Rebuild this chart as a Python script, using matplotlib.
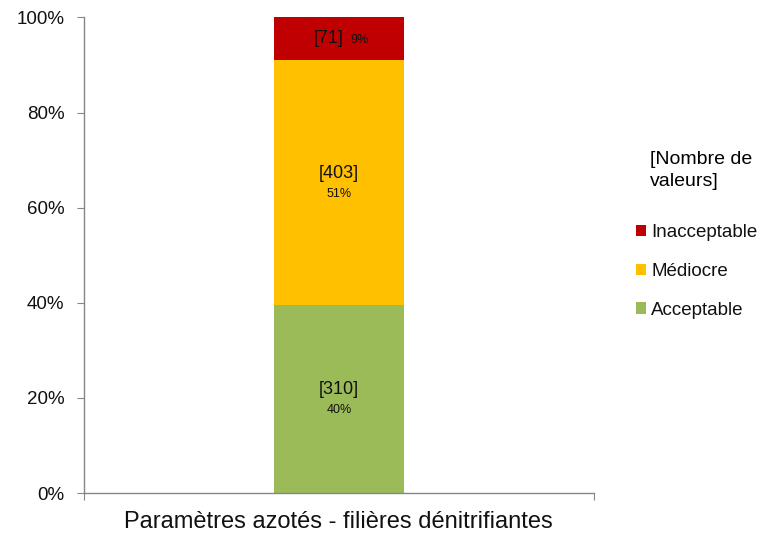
import matplotlib.pyplot as plt
import numpy as np
from matplotlib.patches import Patch

plt.rcParams['font.family'] = ['Liberation Sans', 'DejaVu Sans']

category = "Paramètres azotés - filières dénitrifiantes"
levels = ["Acceptable", "Médiocre", "Inacceptable"]
counts = [310, 403, 71]
colors = ["#9BBB59", "#FFC000", "#C00000"]

total = sum(counts)
shares = [c / total for c in counts]

fig = plt.figure(figsize=(7.73, 5.35), dpi=100)
ax = fig.add_axes([0.1087, 0.0785, 0.6593, 0.889])

bottom = 0.0
for name, n, share, col in zip(levels, counts, shares, colors):
    ax.bar(0, share, bottom=bottom, width=0.255, color=col, label=name)
    mid = bottom + share / 2
    pct = "{:.0f}%".format(share * 100)
    if share < 0.15:
        # thin segment: count and share on one line
        ax.text(0.01, mid, "[{}]".format(n), ha='right', va='center',
                fontsize=13, color='#111111')
        ax.text(0.022, mid - 0.002, pct, ha='left', va='center',
                fontsize=9, color='#111111')
    else:
        ax.text(0, mid + 0.019, "[{}]".format(n), ha='center', va='center',
                fontsize=13, color='#111111')
        ax.text(0, mid - 0.024, pct, ha='center', va='center',
                fontsize=9, color='#111111')
    bottom += share

ax.set_xlim(-0.5, 0.5)
ax.set_ylim(0, 1)
yt = np.arange(0, 1.01, 0.2)
ax.set_yticks(yt)
ax.set_yticklabels(["{:.0f}%".format(v * 100) for v in yt],
                   fontsize=13.5, color='#111111')
ax.tick_params(axis='y', direction='out', length=5, color='#868686', pad=9)

# category boundaries get the ticks, the label sits in the middle
ax.set_xticks([-0.5, 0.5])
ax.set_xticklabels(["", ""])
ax.set_xticks([0], minor=True)
ax.set_xticklabels([category], minor=True, fontsize=17, color='#111111')
ax.tick_params(axis='x', which='major', direction='out', length=5, color='#868686')
ax.tick_params(axis='x', which='minor', length=0, pad=13)

for side in ['top', 'right']:
    ax.spines[side].set_visible(False)
for side in ['left', 'bottom']:
    ax.spines[side].set_color('#868686')
    ax.spines[side].set_linewidth(1.0)

fig.text(0.841, 0.718, "[Nombre de\nvaleurs]", fontsize=14, color='black',
         ha='left', va='top', linespacing=1.4)

handles = [Patch(facecolor=c, edgecolor='none') for c in colors[::-1]]
fig.legend(handles, levels[::-1], loc='upper left',
           bbox_to_anchor=(0.801, 0.612), frameon=False, fontsize=13.5,
           handlelength=0.55, handleheight=0.55, handletextpad=0.25,
           labelspacing=1.15, labelcolor='#111111')

fig.savefig("out.png", dpi=100)
